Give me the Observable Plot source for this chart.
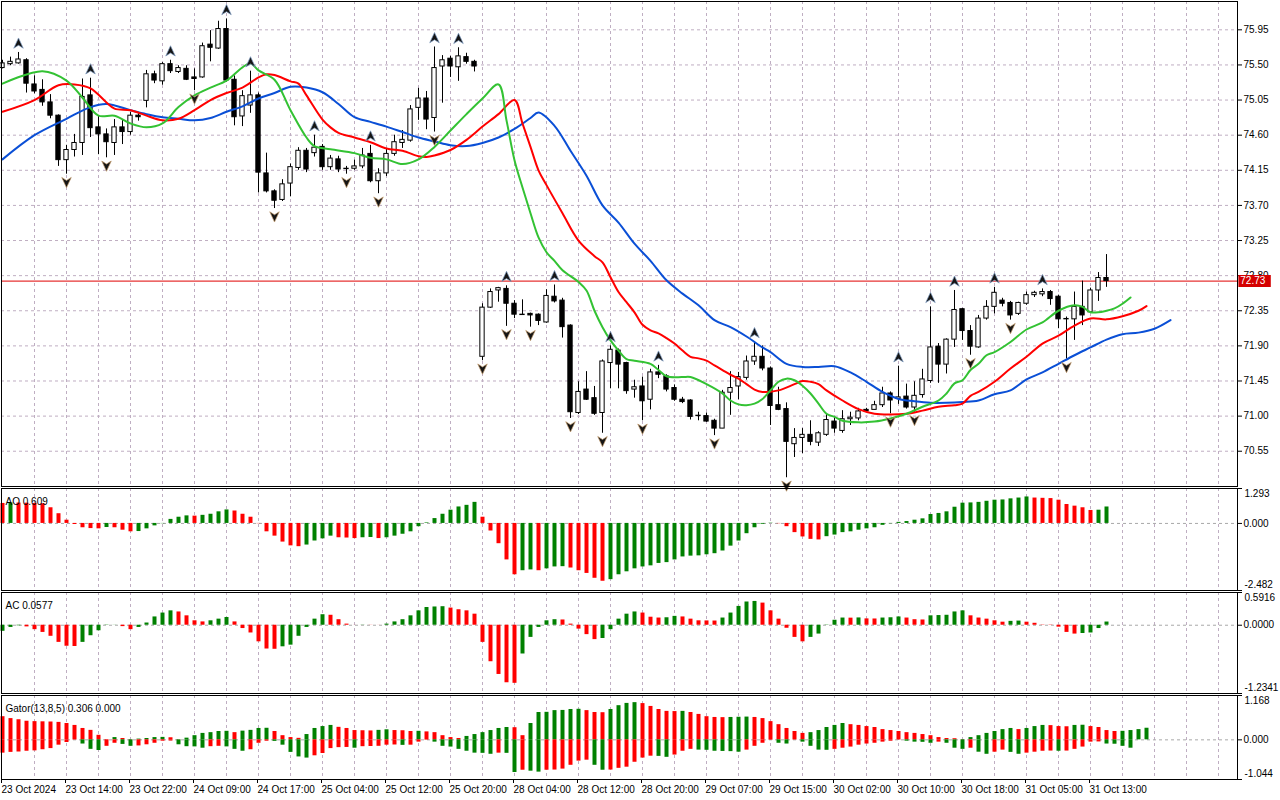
<!DOCTYPE html>
<html><head><meta charset="utf-8">
<script src="https://cdn.jsdelivr.net/npm/d3@7"></script>
<script src="https://cdn.jsdelivr.net/npm/@observablehq/plot@0.6"></script>
<style>
html,body{margin:0;padding:0;background:#fff;width:1280px;height:800px;overflow:hidden;}
#wrap{position:relative;width:1280px;height:800px;}
#wrap>div{position:absolute;left:0;}
svg{overflow:visible;display:block}
</style></head>
<body><div id="wrap"><div id="main" style="top:0"></div><div id="ao" style="top:487px"></div><div id="ac" style="top:591px"></div><div id="gator" style="top:694px"></div></div>
<script>
// ---------- DATA ----------
const timeLabels = ["23 Oct 2024","23 Oct 14:00","23 Oct 22:00","24 Oct 09:00","24 Oct 17:00","25 Oct 04:00","25 Oct 12:00","25 Oct 20:00","28 Oct 04:00","28 Oct 12:00","28 Oct 20:00","29 Oct 07:00","29 Oct 15:00","30 Oct 02:00","30 Oct 10:00","30 Oct 18:00","31 Oct 05:00","31 Oct 13:00"];
const priceTicks = [75.95,75.50,75.05,74.60,74.15,73.70,73.25,72.80,72.35,71.90,71.45,71.00,70.55];
const opens = [75.46,75.51,75.52,75.56,75.25,75.18,75.02,74.85,74.28,74.41,74.50,75.11,74.70,74.61,74.50,74.70,74.64,74.85,75.04,75.38,75.29,75.51,75.41,75.45,75.34,75.34,75.76,75.71,75.96,75.31,74.84,74.98,75.11,74.11,73.88,73.77,73.98,74.18,74.40,74.37,74.45,74.19,74.29,74.17,74.17,74.20,74.36,74.01,74.11,74.36,74.50,74.53,74.95,75.07,74.82,75.48,75.58,75.47,75.60,75.54,
71.76,72.39,72.61,72.63,72.44,72.30,72.31,72.30,72.20,72.53,72.48,72.16,71.04,71.34,71.23,71.04,71.68,71.84,71.68,71.34,71.38,71.21,71.56,71.51,71.36,71.21,71.20,71.00,71.00,70.94,70.84,71.30,71.38,71.49,71.70,71.76,71.61,71.14,71.09,70.64,70.72,70.76,70.66,70.76,70.93,70.81,70.96,70.97,71.08,71.08,71.14,71.29,71.22,71.25,71.11,71.27,71.45,71.89,71.66,71.98,72.37,72.09,71.88,72.25,72.40,72.48,72.45,72.31,72.44,72.55,72.56,72.59,72.53,72.24,72.24,72.40,72.33,72.61,72.77];
const highs = [75.56,75.60,75.66,75.58,75.36,75.31,75.12,74.86,74.47,74.61,75.32,75.33,74.85,74.68,74.80,74.79,74.89,74.88,75.43,75.42,75.53,75.56,75.49,75.49,75.45,75.78,75.94,76.06,76.09,75.36,75.17,75.42,75.14,74.37,73.90,74.03,74.23,74.44,74.43,74.60,74.48,74.34,74.33,74.20,74.28,74.43,74.47,74.17,74.43,74.60,74.66,74.98,75.20,75.16,75.73,75.62,75.61,75.72,75.65,75.56,
72.44,72.63,72.65,72.67,72.48,72.49,72.32,72.31,72.62,72.68,72.51,72.17,71.44,71.57,71.38,71.72,71.90,71.86,71.69,71.46,71.50,71.60,71.65,71.53,71.40,71.24,71.21,71.05,71.04,70.96,71.33,71.57,71.56,71.77,71.95,71.90,71.63,71.37,71.17,70.84,70.84,70.94,70.80,71.03,70.98,71.07,71.05,71.10,71.10,71.19,71.37,71.31,71.64,71.41,71.44,71.60,72.40,71.93,71.99,72.61,72.38,72.16,72.29,72.48,72.65,72.51,72.47,72.46,72.59,72.60,72.63,72.61,72.55,72.27,72.59,72.73,72.64,72.84,73.07];
const lows = [75.45,75.49,75.51,75.14,75.13,74.97,74.81,74.20,74.10,74.32,74.34,74.57,74.35,74.31,74.34,74.48,74.60,74.78,74.95,75.26,75.24,75.39,75.39,75.30,75.17,75.33,75.54,75.70,75.28,74.72,74.71,74.88,73.86,73.86,73.66,73.75,73.81,74.15,74.12,74.32,74.15,74.15,74.12,74.10,74.15,74.17,73.99,73.85,74.07,74.33,74.43,74.51,74.79,74.67,74.64,75.01,75.34,75.29,75.51,75.41,
71.71,72.38,72.46,72.15,72.25,72.29,72.14,72.16,72.19,72.45,72.00,70.97,71.02,71.20,71.01,70.78,71.35,71.35,71.28,71.23,70.94,71.08,71.48,71.31,71.19,71.16,70.95,70.94,70.92,70.75,70.84,71.01,71.21,71.46,71.65,71.58,70.88,71.07,70.21,70.47,70.52,70.62,70.61,70.74,70.78,70.78,70.88,70.94,71.05,71.08,71.11,71.03,71.15,71.09,71.05,71.23,71.42,71.42,71.54,71.88,71.97,71.78,71.87,72.23,72.31,72.40,72.23,72.29,72.42,72.52,72.53,72.42,72.12,71.73,71.97,72.16,72.33,72.47,72.65];
const closes = [75.52,75.54,75.57,75.26,75.16,75.02,74.85,74.28,74.41,74.50,75.09,74.69,74.61,74.51,74.70,74.64,74.85,74.83,75.38,75.30,75.51,75.42,75.46,75.31,75.32,75.74,75.72,75.96,75.30,74.83,75.10,75.11,74.12,73.88,73.76,73.97,74.19,74.40,74.16,74.44,74.19,74.30,74.16,74.165,74.20,74.34,74.01,74.11,74.36,74.51,74.54,74.93,75.07,74.80,75.46,75.56,75.48,75.61,75.54,75.48,
72.39,72.59,72.64,72.44,72.30,72.295,72.29,72.22,72.54,72.47,72.14,71.05,71.31,71.21,71.03,71.70,71.85,71.66,71.32,71.37,71.19,71.56,71.53,71.34,71.21,71.18,70.99,71.005,70.93,70.84,71.30,71.36,71.50,71.70,71.76,71.61,71.13,71.08,70.67,70.72,70.76,70.67,70.78,70.95,70.84,70.96,70.98,71.06,71.06,71.14,71.29,71.20,71.24,71.11,71.26,71.47,71.88,71.66,71.98,72.36,72.09,71.89,72.25,72.40,72.58,72.44,72.29,72.45,72.55,72.58,72.59,72.50,72.24,72.245,72.40,72.29,72.61,72.77,72.73];
const fractalUp = [2,11,21,28,31,39,46,54,57,63,69,76,82,94,112,116,119,124,130];
const fractalDown = [8,13,24,34,43,47,54,60,63,66,71,75,80,89,98,111,114,121,126,133];

const jawIdx = [0,4,8,11,13,16,18,20,22,24,26,28,30,32,34,36,38,40,42,44,46,48,50,52,54,56,58,60,62,64,66,67,69,71,73,75,77,79,81,83,85,87,89,91,93,95,96,98,100,102,104,106,108,110,112,114,116,118,120,122,124,126,128,130,132,134,136,138,140,142,144,146];
const jawVal = [74.29,74.60,74.81,74.96,75.00,74.92,74.87,74.83,74.81,74.79,74.82,74.90,74.97,75.07,75.14,75.22,75.21,75.15,75.00,74.83,74.77,74.71,74.64,74.57,74.52,74.47,74.46,74.50,74.57,74.68,74.82,74.89,74.72,74.40,74.08,73.70,73.48,73.21,72.99,72.74,72.57,72.42,72.23,72.14,72.02,71.88,71.82,71.67,71.63,71.63,71.64,71.56,71.44,71.31,71.22,71.19,71.17,71.17,71.18,71.20,71.28,71.33,71.47,71.56,71.67,71.78,71.88,71.98,72.05,72.07,72.12,72.23];
const teethIdx = [0,4,7,9,11,13,14,16,18,20,22,24,26,28,30,32,33,34,36,37,38,40,41,42,44,46,48,50,52,53,54,56,58,60,62,64,65,66,67,68,70,72,74,75,76,77,78,79,80,81,82,83,84,85,86,87,88,89,90,91,92,93,94,95,97,99,100,101,102,103,105,107,109,111,113,115,117,119,120,121,122,124,126,128,130,132,134,136,138,140,142,143];
const teethVal = [74.90,75.05,75.24,75.25,75.20,75.02,74.94,74.92,74.85,74.79,74.81,74.92,75.05,75.14,75.21,75.34,75.38,75.37,75.29,75.26,75.11,74.80,74.70,74.63,74.57,74.51,74.43,74.40,74.33,74.32,74.34,74.41,74.54,74.71,74.87,75.05,74.75,74.45,74.15,73.96,73.60,73.25,73.05,72.97,72.78,72.59,72.46,72.33,72.17,72.10,72.06,72.00,71.93,71.84,71.76,71.74,71.71,71.65,71.59,71.53,71.48,71.41,71.34,71.31,71.33,71.41,71.45,71.44,71.41,71.33,71.20,71.09,71.03,71.02,71.03,71.07,71.12,71.14,71.16,71.26,71.31,71.44,71.61,71.76,71.93,72.03,72.16,72.25,72.24,72.28,72.35,72.41];
const lipsIdx = [0,5,8,10,12,14,16,18,20,22,24,26,28,30,31,32,34,36,38,39,41,44,46,48,50,52,54,56,58,60,62,63,64,65,66,67,68,69,70,72,73,74,75,76,77,78,79,81,82,83,85,86,88,90,91,92,93,94,95,96,97,98,99,100,101,102,103,104,105,107,109,111,113,115,117,118,119,120,121,122,123,124,126,128,130,132,134,135,136,138,139,140,141];
const lipsVal = [75.26,75.42,75.30,75.08,74.85,74.85,74.75,74.70,74.75,74.96,75.11,75.21,75.30,75.47,75.52,75.43,75.31,74.92,74.57,74.46,74.42,74.37,74.31,74.29,74.23,74.29,74.45,74.66,74.87,75.07,75.25,74.79,74.28,73.93,73.60,73.29,73.10,72.99,72.87,72.72,72.61,72.35,72.14,71.97,71.84,71.73,71.71,71.67,71.59,71.51,71.50,71.50,71.41,71.29,71.20,71.15,71.14,71.16,71.22,71.33,71.44,71.48,71.46,71.39,71.29,71.16,71.03,70.99,70.94,70.92,70.93,70.97,71.03,71.12,71.20,71.29,71.42,71.46,71.59,71.67,71.78,71.82,71.95,72.11,72.20,72.35,72.42,72.40,72.33,72.35,72.38,72.44,72.52];

const aoRange = [-2.482, 1.293];
const aoPrev = 0.80;
const ao = [0.74,0.76,0.755,0.75,0.74,0.73,0.58,0.36,0.12,-0.04,-0.16,-0.19,-0.20,-0.15,-0.16,-0.25,-0.31,-0.30,-0.20,-0.09,-0.01,0.15,0.23,0.28,0.27,0.30,0.34,0.43,0.50,0.46,0.34,0.23,-0.01,-0.31,-0.47,-0.69,-0.83,-0.86,-0.80,-0.65,-0.57,-0.47,-0.53,-0.54,-0.56,-0.53,-0.52,-0.56,-0.53,-0.47,-0.40,-0.31,-0.12,0.02,0.18,0.34,0.49,0.61,0.67,0.78,
0.23,-0.28,-0.75,-1.35,-1.90,-1.75,-1.72,-1.75,-1.68,-1.61,-1.60,-1.65,-1.75,-1.85,-2.03,-2.14,-2.08,-1.90,-1.79,-1.68,-1.61,-1.57,-1.48,-1.45,-1.35,-1.24,-1.21,-1.20,-1.16,-1.12,-1.02,-0.84,-0.65,-0.38,-0.16,-0.03,0.01,-0.01,-0.12,-0.34,-0.50,-0.59,-0.61,-0.49,-0.43,-0.34,-0.31,-0.25,-0.20,-0.16,-0.07,-0.01,0.04,0.07,0.12,0.17,0.33,0.37,0.43,0.60,0.75,0.76,0.78,0.82,0.86,0.87,0.91,0.94,0.98,0.94,0.93,0.92,0.86,0.70,0.64,0.58,0.48,0.49,0.609];

const acRange = [-1.2341, 0.5916];
const acPrev = -0.15;
const ac = [-0.11,-0.04,-0.01,-0.03,-0.08,-0.13,-0.20,-0.31,-0.38,-0.385,-0.31,-0.19,-0.10,-0.005,-0.002,-0.025,-0.08,-0.04,0.04,0.15,0.22,0.26,0.24,0.17,0.08,0.06,0.08,0.11,0.14,0.06,-0.06,-0.14,-0.30,-0.43,-0.435,-0.39,-0.36,-0.20,-0.04,0.11,0.19,0.18,0.10,0.02,0.001,0.003,0.002,0.001,0.02,0.06,0.10,0.17,0.26,0.32,0.33,0.335,0.31,0.28,0.26,0.20,
-0.31,-0.66,-0.89,-1.04,-1.05,-0.52,-0.22,-0.04,0.08,0.10,0.095,0.02,-0.07,-0.17,-0.26,-0.24,-0.08,0.11,0.20,0.24,0.22,0.145,0.13,0.135,0.16,0.15,0.11,0.08,0.078,0.076,0.13,0.22,0.34,0.42,0.43,0.40,0.26,0.11,-0.055,-0.22,-0.30,-0.22,-0.16,-0.005,0.09,0.13,0.128,0.132,0.115,0.113,0.13,0.135,0.15,0.13,0.10,0.095,0.17,0.175,0.18,0.24,0.26,0.17,0.13,0.11,0.08,0.055,0.07,0.075,0.055,0.035,0.005,-0.005,-0.035,-0.13,-0.16,-0.15,-0.14,-0.06,0.0577];

const gatorRange = [-1.044, 1.168];
const gatorUpPrev = 0.65, gatorDownPrev = 0.37;
const gatorUp = [0.61,0.56,0.53,0.49,0.48,0.475,0.47,0.46,0.43,0.38,0.30,0.25,0.12,0.005,0.06,0.035,0.005,0.02,0.035,0.06,0.065,0.055,0.005,0.045,0.11,0.17,0.19,0.22,0.225,0.19,0.23,0.25,0.30,0.305,0.22,0.11,0.06,0.04,0.14,0.30,0.35,0.38,0.33,0.30,0.245,0.24,0.235,0.25,0.265,0.245,0.24,0.22,0.225,0.21,0.19,0.11,0.06,0.035,0.09,0.14,0.19,0.245,0.30,0.325,0.32,0.11,0.43,0.72,0.725,0.77,0.775,0.80,0.805,0.77,0.72,0.715,0.80,0.90,0.96,0.98,0.955,0.88,0.80,0.75,0.745,0.75,0.72,0.67,0.61,0.59,0.585,0.59,0.595,0.60,0.59,0.56,0.48,0.40,0.30,0.22,0.17,0.19,0.245,0.325,0.38,0.43,0.40,0.38,0.35,0.325,0.27,0.245,0.22,0.19,0.17,0.14,0.11,0.06,0.035,0.03,0.005,0.06,0.11,0.17,0.22,0.27,0.30,0.27,0.30,0.35,0.38,0.375,0.35,0.345,0.38,0.385,0.35,0.325,0.245,0.22,0.225,0.245,0.27,0.306];
const gatorDown = [-0.35,-0.33,-0.32,-0.30,-0.29,-0.26,-0.23,-0.14,-0.07,-0.005,-0.11,-0.25,-0.28,-0.17,-0.09,-0.12,-0.17,-0.16,-0.13,-0.09,-0.035,-0.03,-0.13,-0.18,-0.185,-0.22,-0.18,-0.17,-0.185,-0.25,-0.30,-0.26,-0.09,-0.035,-0.04,-0.14,-0.33,-0.45,-0.48,-0.42,-0.36,-0.23,-0.205,-0.20,-0.22,-0.18,-0.175,-0.17,-0.14,-0.135,-0.145,-0.14,-0.06,-0.01,-0.06,-0.17,-0.19,-0.25,-0.30,-0.35,-0.355,-0.38,-0.35,-0.355,-0.86,-0.80,-0.825,-0.85,-0.80,-0.795,-0.77,-0.67,-0.56,-0.535,-0.67,-0.80,-0.795,-0.75,-0.72,-0.59,-0.48,-0.43,-0.435,-0.46,-0.40,-0.30,-0.25,-0.27,-0.275,-0.30,-0.305,-0.31,-0.325,-0.27,-0.17,-0.09,-0.01,-0.09,-0.11,-0.005,-0.06,-0.17,-0.27,-0.275,-0.25,-0.22,-0.19,-0.14,-0.11,-0.09,-0.06,-0.035,-0.005,-0.035,-0.06,-0.065,-0.09,-0.06,-0.09,-0.22,-0.25,-0.22,-0.325,-0.38,-0.325,-0.27,-0.33,-0.38,-0.35,-0.325,-0.30,-0.295,-0.30,-0.295,-0.25,-0.19,-0.06,-0.055,-0.11,-0.115,-0.17,-0.22,0,0];

// ---------- SETUP ----------
const RED = "#ff0000", GREEN = "#008000", GRID = "#bfaec2";
const FONT = "Liberation Sans, Arial, sans-serif";
const xScale = {type:"linear", domain:[-0.125, 154.375], axis:null};
const vGrid = d3.range(4, 153, 4);
const common = {width:1280, marginLeft:1, marginRight:43, x:xScale,
  style:{fontFamily:FONT, fontSize:"10px", color:"#000", background:"transparent", overflow:"visible"}};

const candles = opens.map((o,i)=>({i, open:o, high:highs[i], low:lows[i], close:closes[i]}));
const toLine = (idx, val) => idx.map((i,k)=>({i, v:val[k]}));
const lastClose = closes[closes.length-1];

function colored(vals, prev, absMode) {
  let p = prev, c = null;
  return vals.map((v,i)=>{
    const a = absMode ? Math.abs(v) : v, pa = absMode ? Math.abs(p) : p;
    if (a > pa) c = GREEN; else if (a < pa) c = RED; else c = c || RED;
    p = v;
    return {i, v, c};
  });
}

const arrowUp = {draw(ctx, size){ const r = Math.sqrt(size/Math.PI);
  ctx.moveTo(0,-r*1.1); ctx.lineTo(r*0.95,r*0.95); ctx.lineTo(0,r*0.35); ctx.lineTo(-r*0.95,r*0.95); ctx.closePath(); }};
const arrowDown = {draw(ctx, size){ const r = Math.sqrt(size/Math.PI);
  ctx.moveTo(0,r*1.1); ctx.lineTo(r*0.95,-r*0.95); ctx.lineTo(0,-r*0.35); ctx.lineTo(-r*0.95,-r*0.95); ctx.closePath(); }};

// ---------- MAIN ----------
const main = Plot.plot({...common, height:487, marginTop:1, marginBottom:1,
  y:{domain:[70.098, 76.313], axis:null},
  marks:[
    Plot.ruleY(priceTicks, {stroke:GRID, strokeDasharray:"3,3"}),
    Plot.ruleX(vGrid, {stroke:GRID, strokeDasharray:"3,3"}),
    Plot.ruleY([lastClose], {stroke:"#e00000", strokeWidth:1}),
    Plot.ruleX(candles, {x:"i", y1:"low", y2:"high", stroke:"#000"}),
    Plot.rect(candles, {x1:d=>d.i-0.27, x2:d=>d.i+0.27, y1:"open", y2:"close",
      fill:d=>d.close>=d.open?"#fff":"#000", stroke:"#000"}),
    Plot.line(toLine(jawIdx, jawVal), {x:"i", y:"v", stroke:"#0a4fd6", strokeWidth:2, curve:"catmull-rom"}),
    Plot.line(toLine(teethIdx, teethVal), {x:"i", y:"v", stroke:"#ff0000", strokeWidth:2, curve:"catmull-rom"}),
    Plot.line(toLine(lipsIdx, lipsVal), {x:"i", y:"v", stroke:"#33c233", strokeWidth:2, curve:"catmull-rom"}),
    Plot.dot(fractalUp, {x:d=>d, y:d=>highs[d], symbol:arrowUp, r:5, dy:-9, fill:"#151515", stroke:"#7d9bc2", strokeWidth:0.7}),
    Plot.dot(fractalDown, {x:d=>d, y:d=>lows[d], symbol:arrowDown, r:5, dy:8, fill:"#151515", stroke:"#c29a6a", strokeWidth:0.7}),
    Plot.axisY({anchor:"right", ticks:priceTicks, tickFormat:d=>d.toFixed(2), tickSize:4, tickPadding:2, fontSize:10, label:null}),
    Plot.ruleY([lastClose], {x1:154.55, x2:158.6, stroke:"#d40000", strokeWidth:12}),
    Plot.text([lastClose], {x:154.6, y:d=>d, text:d=>d.toFixed(2), textAnchor:"start", dx:1, fill:"#fff", fontSize:10}),
    Plot.frame({stroke:"#000"})
  ]});
document.getElementById("main").appendChild(main);

// ---------- INDICATOR PANEL ----------
function panel(el, h, mb, range, fmt, data, label, extraMarks) {
  const [lo, hi] = range;
  const p = Plot.plot({...common, height:h, marginTop:1, marginBottom:mb,
    y:{domain:[lo, hi], axis:null},
    marks:[
      Plot.ruleX(vGrid, {stroke:GRID, strokeDasharray:"3,3"}),
      Plot.ruleY([0], {stroke:"#a8a8a8", strokeDasharray:"3,3"}),
      ...data.map(ds => Plot.ruleX(ds, {x:"i", y1:0, y2:"v", stroke:"c", strokeWidth:4})),
      Plot.text([label], {frameAnchor:"top-left", dx:4, dy:9, textAnchor:"start", fontSize:10, fill:"#000"}),
      Plot.axisY({anchor:"right", ticks:[lo, 0, hi], tickFormat:d=>d===0?fmt(0):"", tickSize:4, tickPadding:2, fontSize:10, label:null}),
      Plot.text([hi], {y:d=>d, frameAnchor:"right", dx:7, dy:5, textAnchor:"start", text:fmt, fontSize:10, fill:"#000"}),
      Plot.text([lo], {y:d=>d, frameAnchor:"right", dx:7, dy:-6, textAnchor:"start", text:fmt, fontSize:10, fill:"#000"}),
      ...(extraMarks||[]),
      Plot.frame({stroke:"#000"})
    ]});
  document.getElementById(el).appendChild(p);
}

const f3 = d=>d.toFixed(3), f4 = d=>d.toFixed(4);
panel("ao", 104, 1, aoRange, f3, [colored(ao, aoPrev, false)], `AO ${ao[ao.length-1].toFixed(3)}`);
panel("ac", 103, 1, acRange, f4, [colored(ac, acPrev, false)], `AC ${ac[ac.length-1].toFixed(4)}`);
panel("gator", 106, 21, gatorRange, f3,
  [colored(gatorUp, gatorUpPrev, false), colored(gatorDown, -gatorDownPrev, true)],
  `Gator(13,8,5) ${gatorUp[gatorUp.length-1].toFixed(3)} ${Math.abs(gatorDown[gatorDown.length-1]).toFixed(3)}`,
  [Plot.axisX({anchor:"bottom", ticks:timeLabels.map((_,k)=>k*8), tickFormat:d=>timeLabels[d/8], tickSize:4, tickPadding:2, textAnchor:"start", dx:-1, fontSize:10, label:null})]);
</script></body></html>
